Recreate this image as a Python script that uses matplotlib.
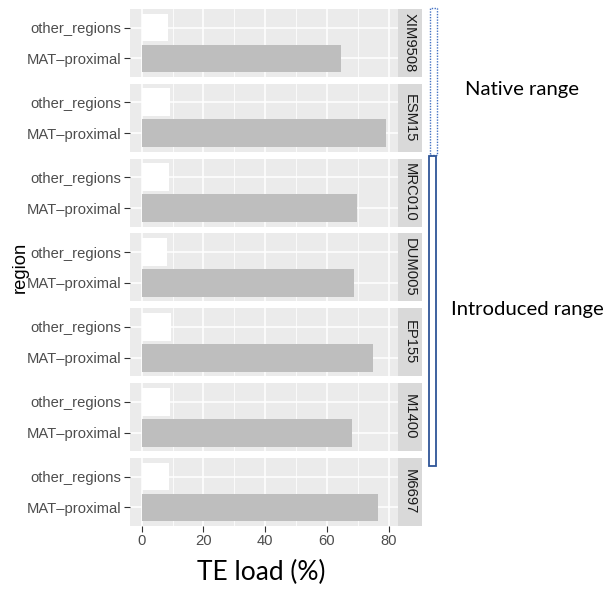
import matplotlib
matplotlib.use("Agg")
from matplotlib import pyplot as plt
from matplotlib.patches import Rectangle

strains = ['XIM9508', 'ESM15', 'MRC010', 'DUM005', 'EP155', 'M1400', 'M6697']
regions = ['MAT\u2013proximal', 'other_regions']
mat_proximal = [64.7, 79.0, 69.6, 68.7, 74.9, 68.1, 76.5]
other_regions = [8.4, 9.2, 8.8, 8.2, 9.5, 9.1, 8.8]
x_ticks = [0, 20, 40, 60, 80]

W, H = 608, 592
fig = plt.figure(figsize=(W / 100, H / 100), dpi=100)
fig.patch.set_facecolor('white')


def box(x0, y0, x1, y1):
    # pixel box (top-left origin) -> figure fraction
    return [x0 / W, 1 - y1 / H, (x1 - x0) / W, (y1 - y0) / H]


panel_h = 68
gap = 6.83
left, right, strip_w = 130, 398, 24

for i, name in enumerate(strains):
    top = 9 + i * (panel_h + gap)
    ax = fig.add_axes(box(left, top, right, top + panel_h))
    ax.set_facecolor('#EBEBEB')
    ax.set_xlim(-3.8, 83.0)
    ax.set_ylim(0.4, 2.6)
    for m in [10, 30, 50, 70]:
        ax.axvline(m, color='white', lw=0.55, zorder=0)
    for t in x_ticks:
        ax.axvline(t, color='white', lw=1.1, zorder=0)
    for yv in [1, 2]:
        ax.axhline(yv, color='white', lw=1.1, zorder=0)
    ax.barh([1, 2], [mat_proximal[i], other_regions[i]], height=0.9,
            color=['#BEBEBE', '#FFFFFF'], zorder=2)
    ax.set_yticks([1, 2])
    ax.set_yticklabels(regions, fontsize=10.6, color='#4D4D4D', family='Liberation Sans')
    ax.tick_params(axis='y', length=4, width=0.8, color='#333333', pad=2)
    ax.set_xticks(x_ticks)
    if i == len(strains) - 1:
        ax.set_xticklabels([str(t) for t in x_ticks], fontsize=10.6, color='#4D4D4D',
                           family='Liberation Sans')
        ax.tick_params(axis='x', length=4, width=0.8, color='#333333', pad=2)
    else:
        ax.tick_params(axis='x', length=0, labelbottom=False)
    for s in ax.spines.values():
        s.set_visible(False)

    # facet strip on the right
    sax = fig.add_axes(box(right, top, right + strip_w, top + panel_h))
    sax.set_facecolor('#D9D9D9')
    sax.set_xticks([])
    sax.set_yticks([])
    for s in sax.spines.values():
        s.set_visible(False)
    sax.text(0.5, 0.5, name, rotation=-90, ha='center', va='center', fontsize=10.6,
             color='#1A1A1A', family='Liberation Sans', transform=sax.transAxes)

fig.text(20 / W, 1 - 267 / H, 'region', rotation=90, ha='center', va='center',
         fontsize=13.2, color='black', family='Liberation Sans')
fig.text(261 / W, 1 - 572 / H, 'TE load (%)', ha='center', va='center',
         fontsize=19, color='black', family='Lato')

# range brackets
b = box(430, 7.5, 436.5, 155)
fig.add_artist(Rectangle((b[0], b[1]), b[2], b[3], transform=fig.transFigure,
                         fill=False, edgecolor='#4472C4', lw=1.0, linestyle=(0, (1, 1))))
b = box(429, 156, 435.5, 466)
fig.add_artist(Rectangle((b[0], b[1]), b[2], b[3], transform=fig.transFigure,
                         fill=False, edgecolor='#2F5597', lw=1.3))
fig.text(522 / W, 1 - 89 / H, 'Native range', ha='center', va='center',
         fontsize=14.6, color='black', family='Lato')
fig.text(527 / W, 1 - 310 / H, 'Introduced range', ha='center', va='center',
         fontsize=14.6, color='black', family='Lato')

fig.savefig('out.png', dpi=100)
